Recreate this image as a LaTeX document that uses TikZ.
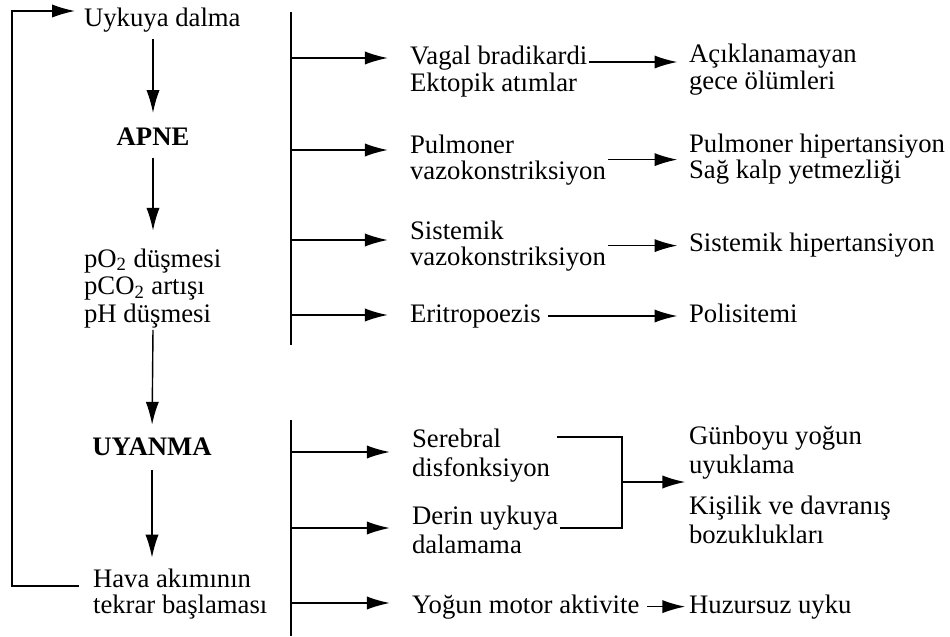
\documentclass[tikz,border=0pt]{standalone}
\usepackage{fontspec}
\setmainfont{Liberation Serif}
\usetikzlibrary{arrows.meta}

\begin{document}
\begin{tikzpicture}[x=0.02cm,y=-0.02cm,
    txt/.style={inner sep=1pt, align=left, anchor=base west, font=\fontsize{15.2}{14.8}\selectfont},
    txtlo/.style={txt, font=\fontsize{15.2}{16.2}\selectfont},
    head/.style={inner sep=1pt, anchor=base, font=\fontsize{15.2}{14.8}\selectfont\bfseries},
    line/.style={line width=0.8pt},
    arr/.style={line, -{Latex[length=13pt,width=7.5pt]}},
    bar/.style={line width=1.1pt}]
  \useasboundingbox (0,0) rectangle (950,636);

  % left column (base = last line)
  \node[txt] (uyku) at (82,26) {Uykuya dalma};
  \node[head] (apne) at (153,145) {APNE};
  \node[txt, font=\fontsize{15.2}{15.6}\selectfont] (gaz) at (82,322) {pO\textsubscript{2} düşmesi\\pCO\textsubscript{2} artışı\\pH düşmesi};
  \node[head] (uyan) at (152,455) {UYANMA};
  \node[txt] (hava) at (91,613) {Hava akımının\\tekrar başlaması};

  \draw[arr, shorten <=3pt, shorten >=7pt] (uyku.south -| apne.north) -- (apne.north);
  \draw[arr, shorten <=6pt, shorten >=9pt] (apne.south) -- (apne.south |- gaz.north);
  \draw[arr, shorten <=0pt, shorten >=6pt] (apne.south |- gaz.south) -- (uyan.north);
  \draw[arr, shorten <=7pt, shorten >=5pt] (uyan.south) -- (uyan.south |- hava.north);

  \coordinate (loopbot) at (12,586);
  \coordinate (looptop) at (12,11);
  \draw[arr, shorten >=4pt] ([xshift=-7pt]hava.west |- loopbot) -- (loopbot) -- (looptop) -- (looptop -| uyku.west);

  % bars
  \coordinate (bar1) at (291,12);
  \coordinate (bar1end) at (291,345);
  \coordinate (bar2) at (291,420);
  \coordinate (bar2end) at (291,636);
  \draw[bar] (bar1) -- (bar1end);
  \draw[bar] (bar2) -- (bar2end);

  % middle column
  \node[txt] (vagal) at (408,91) {Vagal bradikardi\\Ektopik atımlar};
  \node[txt] (pulm) at (408,179) {Pulmoner\\vazokonstriksiyon};
  \node[txt] (sist) at (408,265) {Sistemik\\vazokonstriksiyon};
  \node[txt] (eritro) at (408,322) {Eritropoezis};
  \node[txtlo] (sereb) at (410,476) {Serebral\\disfonksiyon};
  \node[txtlo] (derin) at (410,553) {Derin uykuya\\dalamama};
  \node[txt] (motor) at (410,613) {Yoğun motor aktivite};

  \foreach \y/\n in {58/vagal,150/pulm,240/sist,315/eritro,452/sereb,528/derin,603/motor}
    \draw[arr, shorten >=11.5pt] (291,\y) -- (\n.west |- 291,\y);

  % right column
  \node[txt] (acik) at (687,89) {Açıklanamayan\\gece ölümleri};
  \node[txt] (pht) at (687,178) {Pulmoner hipertansiyon\\Sağ kalp yetmezliği};
  \node[txt] (sht) at (687,251) {Sistemik hipertansiyon};
  \node[txt] (poli) at (687,322) {Polisitemi};
  \node[txtlo] (gun) at (687,473) {Günboyu yoğun\\uyuklama};
  \node[txtlo] (kisi) at (687,543) {Kişilik ve davranış\\bozuklukları};
  \node[txt] (huz) at (687,613) {Huzursuz uyku};

  \draw[arr, shorten >=5.5pt] (vagal.east |- 0,62) -- (acik.west |- 0,62);
  \draw[arr, shorten >=5.5pt] (pulm.east) -- (pulm.east -| pht.west);
  \draw[arr, shorten >=5.5pt] (sist.east) -- (sist.east -| sht.west);
  \draw[arr, shorten <=3pt, shorten >=5.5pt] (eritro.east) -- (eritro.east -| poli.west);

  \coordinate (join) at (622,482);
  \draw[line, shorten <=3pt] (sereb.east |- 0,437) -| (join);
  \draw[line] (derin.east |- 0,528) -| (join);
  \draw[arr, shorten >=1pt] (join) -- (join -| gun.west);
  \draw[arr, shorten <=3pt, shorten >=1pt] (motor.east) -- (motor.east -| huz.west);
\end{tikzpicture}
\end{document}
